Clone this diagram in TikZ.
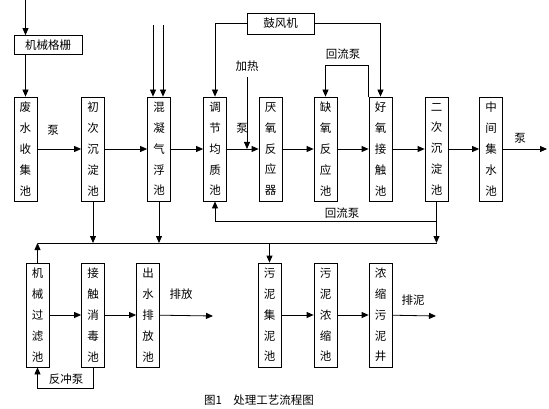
\documentclass[tikz,border=0pt]{standalone}
\usepackage{fontspec}
\newfontfamily\cjk{Noto Sans CJK SC}
\usetikzlibrary{arrows.meta}

\begin{document}
\begin{tikzpicture}[
  x=1pt, y=-1pt,
  line width=0.8pt,
  every node/.style={font=\cjk\fontsize{11.5}{20.8}\selectfont, inner sep=1pt},
  pool/.style={draw, minimum width=23pt, minimum height=104pt, inner sep=0pt, align=center},
  unit/.style={draw, minimum height=19pt, inner sep=3pt},
  flow/.style={-{Triangle[length=7pt,width=6pt]}}
]
\useasboundingbox (0,0) rectangle (549,409);

% top row
\node[pool] (fs) at (25.5,149) {废\\水\\收\\集\\池};
\node[pool] (cc) at (93,149)   {初\\次\\沉\\淀\\池};
\node[pool] (hn) at (159,149)  {混\\凝\\气\\浮\\池};
\node[pool] (tj) at (215,149)  {调\\节\\均\\质\\池};
\node[pool] (yy) at (270.5,149) {厌\\氧\\反\\应\\器};
\node[pool] (qy) at (325.5,149) {缺\\氧\\反\\应\\池};
\node[pool] (hy) at (380.5,149) {好\\氧\\接\\触\\池};
\node[pool] (ec) at (436.5,149) {二\\次\\沉\\淀\\池};
\node[pool] (zj) at (491,149)  {中\\间\\集\\水\\池};

\node[unit, minimum width=68pt] (gs) at (48,45) {机械格栅};
\node[unit, minimum width=67pt, minimum height=21pt] (gf) at (280.5,23.5) {鼓风机};

% bottom row
\node[pool] (jx) at (37.5,315)  {机\\械\\过\\滤\\池};
\node[pool] (xd) at (93,315)    {接\\触\\消\\毒\\池};
\node[pool] (cs) at (148,315)   {出\\水\\排\\放\\池};
\node[pool] (wj) at (269.5,315) {污\\泥\\集\\泥\\池};
\node[pool] (wn) at (325.5,315) {污\\泥\\浓\\缩\\池};
\node[pool] (nw) at (380.5,315) {浓\\缩\\污\\泥\\井};

% free ends
\coordinate (in) at (25.5,0);
\coordinate (ya) at (153,25);
\coordinate (yb) at (163,25);
\coordinate (jr) at (247,77);
\coordinate (out1) at (547,149);
\coordinate (c1) at (37.5,243);
\coordinate (c2) at (437,243);
\coordinate (r1) at (437,221);
\coordinate (out2) at (213,316);
\coordinate (out3) at (436,316);

% main water line
\draw[flow] (in) -- (in |- gs.north);
\draw[flow] (in |- gs.south) -- (fs);
\foreach \a/\b in {fs/cc, cc/hn, hn/tj, tj/yy, yy/qy, qy/hy, hy/ec, ec/zj}
  \draw[flow] (\a) -- (\b);
\draw[flow] (zj) -- (out1);
\draw[flow] (ya) -- (ya |- hn.north);
\draw[flow] (yb) -- (yb |- hn.north);
\draw[flow] (jr) -- (jr |- tj.east);
\draw[flow] (gf.west) -| (tj.north);
\draw[flow] (gf.east) -| (hy.north);
\draw[flow] (hy.north west) -- ++(0,-31) -| (qy.north);

% collecting line
\draw (c1) -- (c2);
\draw[flow] (cc.south) -- (cc.south |- c1);
\draw[flow] (hn.south) -- (hn.south |- c1);
\draw[flow] (ec.south) -- (ec.south |- c2);
\draw[flow] (ec.south |- r1) -| (tj.south);
\draw[flow] (jx.north) -- (jx.north |- c1);
\draw[flow] (wj.north |- c1) -- (wj.north);

% bottom row
\draw[flow] (jx) -- (xd);
\draw[flow] (xd) -- (cs);
\draw[flow] (cs) -- (out2);
\draw[flow] (wj) -- (wn);
\draw[flow] (wn) -- (nw);
\draw[flow] (nw) -- (out3);
\draw[flow] (xd.south) -- ++(0,21) -| (jx.south);

% labels
\node (p1) at (53,130) {泵};
\node (p2) at (242,128) {泵};
\node (p3) at (520,138) {泵};
\node (jrl) at (247,66) {加热};
\node (hl1) at (343,54) {回流泵};
\node (hl2) at (342,213) {回流泵};
\node (pf) at (181,294) {排放};
\node (pn) at (413,300) {排泥};
\node (fc) at (66,379) {反冲泵};
\node (cap) at (259,400) {图1\quad 处理工艺流程图};
\end{tikzpicture}
\end{document}
